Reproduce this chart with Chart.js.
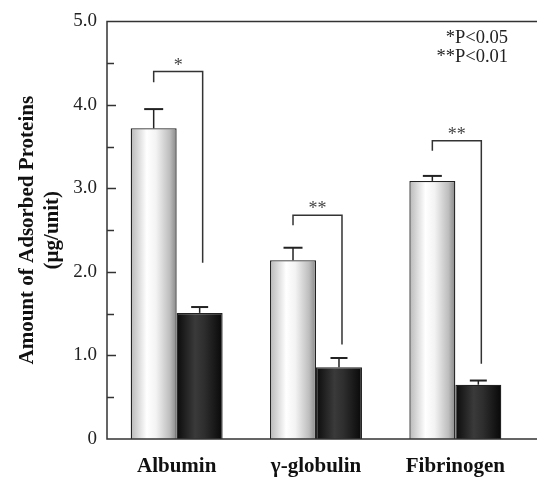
<!DOCTYPE html>
<html>
<head>
<meta charset="utf-8">
<script src="https://cdn.jsdelivr.net/npm/chart.js@4"></script>
<style>
  html, body { margin: 0; padding: 0; background: #fff; }
  #wrap { width: 537px; height: 477px; position: relative; }
</style>
</head>
<body>
<div id="wrap"><canvas id="chart"></canvas></div>
<script>
// values
const categories = ["Albumin", "γ-globulin", "Fibrinogen"];
const controlValues = [3.72, 2.14, 3.09];
const controlErrors = [0.23, 0.15, 0.06];
const coatedValues = [1.51, 0.86, 0.65];
const coatedErrors = [0.07, 0.11, 0.05];

// significance brackets (in axis units)
const sigMarks = ["*", "**", "**"];
const bracketTop = [4.40, 2.68, 3.57];
const bracketLeftEnd = [4.27, 2.56, 3.45];
const bracketRightEnd = [2.11, 1.13, 0.90];
const pNotes = ["*P<0.05", "**P<0.01"];

const SERIF = "'Liberation Serif', 'Times New Roman', serif";

function barGradient(stops) {
  return (context) => {
    const el = context.element;
    if (!el || !isFinite(el.x) || !el.width) return stops[0][1];
    const g = context.chart.ctx.createLinearGradient(el.x - el.width / 2, 0, el.x + el.width / 2, 0);
    stops.forEach(([o, c]) => g.addColorStop(o, c));
    return g;
  };
}

const lightStops = [[0, "#b8b8b8"], [0.35, "#ffffff"], [0.55, "#f3f3f3"], [0.85, "#bdbdbd"], [1, "#878787"]];
const darkStops = [[0, "#0b0b0b"], [0.4, "#3a3a3a"], [0.6, "#2e2e2e"], [1, "#080808"]];

// frame, inner ticks, error bars, brackets and notes
const decorations = {
  id: "decorations",
  afterDatasetsDraw(chart) {
    const { ctx, chartArea, scales: { y } } = chart;
    ctx.save();
    ctx.strokeStyle = "#333";
    ctx.lineWidth = 1.5;
    ctx.beginPath();
    ctx.moveTo(chart.width, chartArea.top);
    ctx.lineTo(chartArea.left, chartArea.top);
    ctx.lineTo(chartArea.left, chartArea.bottom);
    ctx.lineTo(chart.width, chartArea.bottom);
    ctx.stroke();

    // ticks point into the plot
    y.ticks.forEach((t) => {
      if (t.value <= 0 || t.value >= 5) return;
      const py = Math.round(y.getPixelForValue(t.value)) + 0.5;
      const len = t.value % 1 === 0 ? 9 : 7;
      ctx.beginPath();
      ctx.moveTo(chartArea.left, py);
      ctx.lineTo(chartArea.left + len, py);
      ctx.stroke();
    });

    // error bars
    ctx.strokeStyle = "#222";
    [controlErrors, coatedErrors].forEach((errs, di) => {
      const meta = chart.getDatasetMeta(di);
      meta.data.forEach((bar, j) => {
        const val = chart.data.datasets[di].data[j];
        const top = y.getPixelForValue(val + errs[j]);
        const half = di === 0 ? 9.5 : 8.5;
        ctx.lineWidth = 1.5;
        ctx.beginPath();
        ctx.moveTo(bar.x, bar.y);
        ctx.lineTo(bar.x, top);
        ctx.stroke();
        ctx.lineWidth = 2;
        ctx.beginPath();
        ctx.moveTo(bar.x - half, top);
        ctx.lineTo(bar.x + half, top);
        ctx.stroke();
      });
    });

    // brackets
    const m0 = chart.getDatasetMeta(0);
    const m1 = chart.getDatasetMeta(1);
    ctx.lineWidth = 1.5;
    ctx.strokeStyle = "#333";
    ctx.fillStyle = "#444";
    ctx.font = "18px " + SERIF;
    ctx.textAlign = "center";
    ctx.textBaseline = "alphabetic";
    categories.forEach((c, j) => {
      const xl = m0.data[j].x;
      const xr = m1.data[j].x + 3;
      const yt = y.getPixelForValue(bracketTop[j]);
      ctx.beginPath();
      ctx.moveTo(xl, y.getPixelForValue(bracketLeftEnd[j]));
      ctx.lineTo(xl, yt);
      ctx.lineTo(xr, yt);
      ctx.lineTo(xr, y.getPixelForValue(bracketRightEnd[j]));
      ctx.stroke();
      ctx.fillText(sigMarks[j], (xl + xr) / 2, yt - 1);
    });

    // p-value notes
    ctx.fillStyle = "#222";
    ctx.textAlign = "right";
    ctx.font = "18.5px " + SERIF;
    pNotes.forEach((txt, i) => {
      ctx.fillText(txt, chart.width - 29, 43 + i * 19);
    });
    ctx.restore();
  }
};

const chart = new Chart(document.getElementById("chart"), {
  type: "bar",
  data: {
    labels: categories,
    datasets: [
      {
        label: "Control",
        data: controlValues,
        backgroundColor: barGradient(lightStops),
        borderColor: "#222",
        borderWidth: 1.3
      },
      {
        label: "Coated",
        data: coatedValues,
        backgroundColor: barGradient(darkStops),
        borderColor: "#222",
        borderWidth: 1.3
      }
    ]
  },
  options: {
    responsive: true,
    maintainAspectRatio: false,
    animation: false,
    layout: { padding: { top: 17, right: 12, bottom: 0, left: 0 } },
    datasets: { bar: { categoryPercentage: 0.66, barPercentage: 1.0 } },
    plugins: { legend: { display: false }, tooltip: { enabled: false } },
    scales: {
      x: {
        grid: { display: false, drawTicks: false },
        border: { display: false },
        ticks: { color: "#111", padding: 15, font: { family: SERIF, size: 21, weight: "bold" } },
        afterFit(scale) { scale.height = 38; }
      },
      y: {
        min: 0,
        max: 5,
        grid: { display: false, drawTicks: false },
        border: { display: false },
        ticks: {
          stepSize: 0.5,
          padding: 10,
          color: "#222",
          font: { family: SERIF, size: 19 },
          callback: (v) => (v === 0 ? "0" : v % 1 === 0 ? v.toFixed(1) : "")
        },
        title: {
          display: true,
          text: ["Amount of Adsorbed Proteins", "(µg/unit)"],
          color: "#111",
          font: { family: SERIF, size: 21, weight: "bold", lineHeight: 1.15 },
          padding: { top: 16, bottom: 0 }
        },
        afterFit(scale) { scale.width = 107; }
      }
    }
  },
  plugins: [decorations]
});
chart.update();
</script>
</body>
</html>
